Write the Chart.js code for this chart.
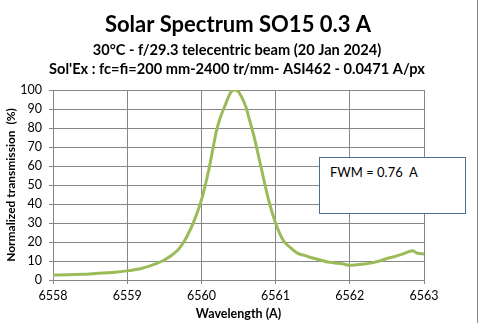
<!DOCTYPE html>
<html>
<head>
<meta charset="utf-8">
<script src="https://cdn.jsdelivr.net/npm/chart.js@4.4.1/dist/chart.umd.min.js"></script>
<style>
  html, body { margin: 0; padding: 0; background: #fff; }
  #wrap { position: relative; width: 479px; height: 323px; }
  #fwmBox {
    position: absolute; left: 319px; top: 157px; width: 145px; height: 55px;
    border: 1px solid #4f6f8f; background: #fff;
    font: 13px Lato, "Open Sans", sans-serif; color: #000;
  }
  #fwmBox span { position: absolute; left: 10px; top: 6px; }
</style>
</head>
<body>
<div id="wrap">
  <canvas id="spec" width="479" height="323"></canvas>
  <div id="fwmBox"><span>FWM = 0.76&nbsp; A</span></div>
</div>
<script>
// ====== 文字 ======
const TITLE = 'Solar Spectrum SO15 0.3 A';
const SUB1 = '30°C - f/29.3 telecentric beam (20 Jan 2024)';
const SUB2 = "Sol'Ex : fc=fi=200 mm-2400 tr/mm- ASI462 - 0.0471 A/px";
const X_TITLE = 'Wavelength (A)';
const Y_TITLE = 'Normalized transmission  (%)';

// ====== 資料 ======
const wavelength = [
  6558.0, 6558.2, 6558.4, 6558.6, 6558.8, 6559.0, 6559.2, 6559.4, 6559.5, 6559.6,
  6559.7, 6559.8, 6559.9, 6560.0, 6560.1, 6560.15, 6560.2, 6560.25, 6560.3, 6560.4,
  6560.45, 6560.5, 6560.6, 6560.65, 6560.7, 6560.8, 6560.9, 6561.0, 6561.1, 6561.2,
  6561.3, 6561.4, 6561.5, 6561.6, 6561.7, 6561.8, 6561.9, 6562.0, 6562.1, 6562.2,
  6562.3, 6562.4, 6562.5, 6562.6, 6562.7, 6562.8, 6562.85, 6562.9, 6563.0
];
const transmission = [
  2.6, 2.7, 3.0, 3.5, 4.0, 4.8, 6.2, 8.8, 10.5, 13,
  16.5, 22.5, 31, 42, 58, 68, 78, 85, 90, 99,
  100, 99, 91, 84, 77, 60, 43, 30, 21, 17,
  14, 12.8, 11.6, 10.5, 9.5, 9.0, 8.5, 7.7, 8.0, 8.4,
  9.0, 10, 11.3, 12.3, 13.5, 15.0, 15.4, 14.2, 13.7
];
const xTicks = [6558, 6559, 6560, 6561, 6562, 6563];
const yTicks = [0, 10, 20, 30, 40, 50, 60, 70, 80, 90, 100];

const LINE_COLOR = '#9bbb59';
const GRID_COLOR = '#868686';
const FONT = 'Lato, "Open Sans", sans-serif';

// ====== 標題與外框 ======
const headerPlugin = {
  id: 'header',
  afterDraw(chart) {
    const { ctx } = chart;
    ctx.save();
    ctx.fillStyle = '#000';
    ctx.textAlign = 'center';
    ctx.textBaseline = 'middle';
    ctx.font = 'bold 22px ' + FONT;
    ctx.fillText(TITLE, 238, 25);
    ctx.font = 'bold 14.6px ' + FONT;
    ctx.fillText(SUB1, 237, 50);
    ctx.fillText(SUB2, 237, 69);
    // 右側外框線
    ctx.strokeStyle = GRID_COLOR;
    ctx.lineWidth = 1;
    ctx.beginPath();
    ctx.moveTo(477.5, 0);
    ctx.lineTo(477.5, 323);
    ctx.stroke();
    ctx.restore();
  }
};

const points = wavelength.map((w, i) => ({ x: w, y: transmission[i] }));

new Chart(document.getElementById('spec').getContext('2d'), {
  type: 'line',
  data: {
    datasets: [{
      data: points,
      borderColor: LINE_COLOR,
      borderWidth: 3,
      pointRadius: 0,
      fill: false,
      cubicInterpolationMode: 'monotone'
    }]
  },
  options: {
    responsive: false,
    animation: false,
    parsing: false,
    layout: { padding: { top: 90, right: 55, left: 0, bottom: 0 } },
    plugins: {
      legend: { display: false },
      tooltip: { enabled: false }
    },
    scales: {
      x: {
        type: 'linear',
        min: 6558,
        max: 6563,
        afterBuildTicks: s => { s.ticks = xTicks.map(v => ({ value: v })); },
        afterFit: s => { s.height = 43; },
        grid: { color: GRID_COLOR, tickLength: 4 },
        border: { color: GRID_COLOR },
        ticks: {
          color: '#000', font: { family: FONT, size: 12.5 }, padding: 4, maxRotation: 0,
          callback: v => String(v)
        },
        title: {
          display: true, text: X_TITLE, color: '#000',
          font: { family: FONT, size: 12.5, weight: 'bold' },
          padding: { top: 0, bottom: 2 }
        }
      },
      y: {
        min: 0,
        max: 100,
        afterBuildTicks: s => { s.ticks = yTicks.map(v => ({ value: v })); },
        afterFit: s => { s.width = 53; },
        grid: { color: GRID_COLOR, tickLength: 4 },
        border: { color: GRID_COLOR },
        ticks: { color: '#000', font: { family: FONT, size: 12.5 }, padding: 7, callback: v => String(v) },
        title: {
          display: true, text: Y_TITLE, color: '#000',
          font: { family: FONT, size: 12, weight: 'bold' },
          padding: { top: 4, bottom: 4 }
        }
      }
    }
  },
  plugins: [headerPlugin]
});
</script>
</body>
</html>
